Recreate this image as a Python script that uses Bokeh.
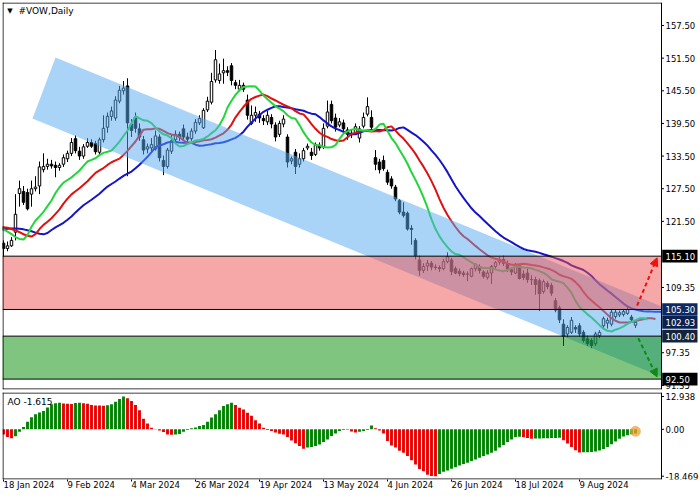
import math
from bokeh.plotting import figure
from bokeh.layouts import column
from bokeh.models import (ColumnDataSource, Range1d, LinearAxis, FixedTicker,
                          Label, Arrow, NormalHead)
from bokeh.core.properties import value
from bokeh.embed import file_html
from bokeh.resources import INLINE

FONT = "DejaVu Sans"

# ---------------- data ----------------
symbol = "#VOW,Daily"
date_tick_index = [0, 16, 32, 48, 64, 80, 96, 112, 128, 144]
date_tick_labels = ["18 Jan 2024", "9 Feb 2024", "4 Mar 2024", "26 Mar 2024", "19 Apr 2024",
                    "13 May 2024", "4 Jun 2024", "26 Jun 2024", "18 Jul 2024", "9 Aug 2024"]
price_ticks = [157.5, 151.5, 145.5, 139.5, 133.5, 127.5, 121.5, 109.35, 97.35, 91.35]
ao_ticks = [12.938, 0.0, -18.469]
ao_tick_labels = ["12.938", "0.00", "-18.469"]

opens = [
    117.5, 116.5, 117.0, 119.5, 126.6, 127.0, 126.8, 126.5, 127.5, 128.0,
    131.0, 131.6, 132.0, 131.8, 131.4, 132.0, 133.0, 134.0, 136.7, 134.4,
    133.5, 135.3, 136.0, 135.8, 134.2, 136.5, 138.8, 140.8, 140.5, 143.6,
    145.5, 146.4, 139.4, 140.7, 138.5, 136.5, 134.8, 135.0, 134.8, 137.0,
    132.7, 131.6, 134.4, 136.5, 137.5, 138.5, 137.0, 136.7, 138.1, 139.6,
    138.7, 142.0, 143.4, 147.5, 147.4, 148.8, 149.2, 150.1, 147.0, 145.8,
    146.5, 143.8, 139.5, 141.0, 141.2, 140.4, 139.8, 140.6, 139.2, 137.5,
    139.4, 137.0, 132.6, 134.2, 132.0, 133.0, 135.0, 134.2, 133.8, 135.5,
    135.2, 139.0, 143.0, 140.5, 139.2, 139.6, 138.3, 137.4, 137.8, 136.8,
    139.0, 141.2, 140.6, 133.2, 132.4, 132.7, 130.5, 129.3, 127.8, 125.3,
    123.2, 123.0, 120.2, 118.0, 114.4, 112.5, 113.3, 113.8, 113.1, 113.0,
    112.8, 114.1, 114.4, 112.8, 112.3, 112.0, 111.8, 111.4, 112.8, 113.2,
    112.2, 111.2, 112.0, 113.2, 114.0, 114.5, 113.7, 112.6, 112.0, 113.4,
    111.8, 112.0, 110.8, 110.8, 110.6, 108.6, 110.1, 109.7, 106.9, 105.6,
    102.6, 100.8, 101.1, 102.0, 102.3, 101.1, 99.9, 99.6, 99.0, 100.5,
    102.3, 102.8, 102.6, 104.0, 104.3, 104.4, 104.6, 103.9, 102.4]
highs = [
    118.0, 117.8, 118.6, 126.5, 129.0, 128.0, 127.5, 129.0, 129.8, 132.5,
    134.0, 133.0, 132.8, 132.5, 132.2, 133.8, 134.5, 136.8, 137.3, 135.2,
    135.7, 136.8, 136.6, 136.3, 136.9, 141.0, 141.5, 142.6, 144.5, 146.4,
    147.3, 147.8, 140.3, 141.5, 139.5, 137.2, 135.8, 136.8, 138.2, 137.5,
    133.6, 135.0, 137.5, 138.2, 138.0, 139.3, 137.8, 138.6, 140.3, 141.0,
    142.3, 144.4, 148.8, 153.0, 150.5, 151.4, 150.0, 150.6, 147.5, 147.5,
    147.0, 144.8, 142.8, 142.6, 141.8, 141.0, 141.8, 141.2, 139.7, 140.0,
    141.0, 137.5, 133.4, 134.8, 134.0, 135.0, 135.8, 135.0, 136.0, 136.0,
    139.5, 143.7, 143.7, 141.3, 140.5, 140.2, 138.8, 138.3, 139.5, 139.0,
    141.5, 144.3, 141.9, 134.6, 133.0, 133.6, 131.0, 129.8, 128.2, 125.6,
    125.0, 123.3, 120.8, 118.4, 115.2, 113.8, 114.4, 114.2, 113.6, 113.4,
    114.6, 115.8, 114.8, 113.2, 112.8, 112.4, 112.3, 113.0, 113.8, 113.6,
    112.5, 112.5, 113.5, 114.2, 115.0, 115.2, 114.3, 113.0, 113.8, 113.7,
    112.5, 112.8, 111.6, 111.3, 111.0, 110.8, 110.5, 110.2, 107.4, 106.0,
    103.5, 102.4, 103.9, 102.4, 102.8, 101.5, 100.5, 100.0, 101.2, 101.5,
    104.0, 103.8, 105.2, 105.3, 105.1, 105.2, 105.8, 104.3, 103.3]
lows = [
    115.0, 116.0, 116.8, 118.0, 124.2, 124.5, 123.5, 124.2, 127.0, 126.5,
    130.5, 131.0, 131.2, 129.6, 130.8, 131.5, 132.4, 133.5, 134.0, 132.8,
    133.0, 135.0, 135.0, 133.8, 133.8, 136.0, 137.8, 140.0, 140.0, 143.2,
    144.8, 129.8, 137.0, 137.8, 136.3, 133.8, 134.0, 134.3, 134.5, 132.5,
    130.0, 131.2, 133.9, 136.0, 136.3, 136.4, 135.8, 136.3, 137.6, 139.2,
    138.5, 141.6, 143.0, 147.0, 146.8, 146.8, 148.2, 146.5, 145.8, 145.4,
    145.3, 140.2, 139.2, 139.8, 139.6, 139.2, 139.2, 138.6, 136.2, 137.0,
    138.8, 131.4, 132.0, 130.2, 131.4, 132.5, 134.6, 132.8, 133.5, 134.5,
    134.8, 138.6, 139.5, 138.0, 138.8, 137.8, 136.5, 136.8, 137.5, 136.0,
    138.6, 140.8, 138.2, 130.9, 130.3, 130.8, 128.2, 127.5, 125.2, 122.8,
    122.2, 119.8, 117.2, 114.5, 111.5, 112.0, 112.4, 112.5, 112.6, 112.2,
    112.5, 113.8, 111.6, 111.8, 111.4, 111.3, 110.5, 111.2, 112.3, 111.9,
    111.0, 110.8, 110.0, 112.8, 113.5, 113.3, 112.2, 111.6, 111.8, 110.8,
    110.7, 110.2, 109.8, 108.0, 105.0, 108.2, 109.0, 107.8, 104.8, 102.8,
    98.6, 100.2, 100.8, 101.0, 100.3, 99.2, 98.6, 98.2, 98.6, 100.0,
    101.8, 101.8, 102.2, 103.6, 103.9, 104.0, 104.3, 103.0, 101.9]
closes = [
    116.5, 117.0, 118.0, 122.8, 127.5, 125.0, 123.8, 127.5, 127.8, 131.5,
    131.6, 132.0, 131.7, 131.4, 131.8, 133.2, 134.0, 136.0, 134.5, 133.5,
    135.2, 136.0, 135.3, 134.3, 136.5, 138.6, 140.8, 141.8, 143.8, 145.6,
    146.0, 139.6, 138.2, 138.6, 137.0, 134.6, 135.2, 135.6, 137.2, 133.2,
    131.6, 134.6, 136.3, 137.5, 137.0, 137.0, 136.6, 138.1, 139.7, 140.4,
    141.9, 143.6, 147.2, 151.2, 148.6, 149.2, 148.9, 147.4, 146.5, 146.5,
    145.8, 141.0, 141.0, 141.5, 140.5, 140.0, 141.0, 139.4, 137.0, 139.5,
    140.3, 132.4, 133.0, 131.6, 133.0, 134.5, 135.3, 133.6, 135.6, 135.0,
    138.6, 141.6, 140.0, 138.8, 139.8, 138.5, 137.5, 137.7, 138.9, 138.5,
    140.6, 142.6, 138.8, 132.0, 131.0, 131.2, 128.7, 128.0, 125.6, 123.2,
    122.6, 120.1, 120.0, 115.2, 112.5, 113.2, 113.8, 113.1, 113.0, 112.8,
    114.1, 115.0, 112.3, 112.0, 111.9, 111.7, 111.8, 112.8, 113.6, 112.5,
    111.4, 112.0, 113.2, 113.9, 114.5, 113.8, 112.8, 112.2, 113.6, 111.0,
    111.2, 110.8, 110.8, 109.9, 108.2, 110.4, 109.5, 108.3, 105.2, 103.4,
    100.4, 102.0, 103.3, 101.7, 100.8, 99.6, 99.0, 98.7, 100.8, 101.1,
    103.6, 103.3, 104.8, 104.8, 104.7, 104.9, 105.3, 103.4, 102.93]

# median prices of the bars before the first visible bar (indicator warm-up)
pre_median = [119.4, 119.0, 119.6, 120.0, 119.3, 119.1, 119.8, 120.2, 119.6, 119.2,
              119.7, 120.3, 120.6, 120.2, 120.9, 121.2, 120.7, 121.0, 121.3, 120.6,
              120.4, 119.5, 118.6, 117.9, 117.3]

ao_values = [
    -2.0, -3.0, -3.5, -2.7, -1.0, 0.95, 3.0, 4.8, 5.9, 6.6,
    7.2, 8.6, 9.9, 10.3, 10.5, 10.2, 10.1, 10.0, 10.35, 10.45,
    10.3, 10.05, 9.6, 9.4, 9.35, 9.3, 9.5, 9.9, 10.9, 11.9,
    12.938, 12.2, 11.2, 9.6, 7.5, 4.2, 2.3, 0.65, -0.1, -0.5,
    -1.05, -2.0, -2.1, -2.0, -1.8, -0.95, -0.3, 0.4, 0.75, 1.3,
    1.7, 3.0, 4.65, 5.9, 7.5, 9.2, 9.9, 10.45, 9.6, 8.55,
    7.8, 6.55, 5.3, 3.6, 2.3, 0.65, -0.3, -0.65, -1.3, -1.7,
    -2.0, -3.0, -4.4, -5.5, -6.55, -7.7, -7.2, -7.0, -6.55, -6.0,
    -5.0, -4.0, -2.65, -1.6, -0.65, -0.3, -0.2, -0.9, -1.3, -1.0,
    -0.7, -0.3, 1.5, 0.4, -0.5, -1.6, -4.6, -6.4, -7.2, -8.4,
    -9.2, -10.5, -12.2, -13.9, -15.6, -16.5, -17.9, -18.4, -18.469, -17.6,
    -16.7, -16.2, -15.5, -14.9, -14.25, -13.7, -13.2, -12.5, -11.9, -11.2,
    -10.5, -9.9, -9.2, -8.4, -7.2, -6.2, -5.0, -4.0, -3.0, -2.9,
    -3.1, -3.4, -3.7, -3.65, -3.6, -3.55, -3.5, -3.45, -3.4, -3.35,
    -4.3, -5.6, -7.0, -8.2, -9.1, -9.05, -9.0, -8.95, -8.7, -8.3,
    -7.8, -7.0, -5.9, -4.8, -3.7, -2.8, -2.3, -1.9, -1.615]

red_zone = [105.30, 115.10]
green_zone = [92.50, 100.40]
channel_index = [13.0, 170.0, 170.0, 7.25]      # top-left, top-right, bottom-right, bottom-left
channel_price = [151.6, 104.2, 91.25, 140.4]
arrow_up_index = [158.4, 163.4]
arrow_up_price = [106.0, 114.8]
arrow_dn_index = [158.7, 163.4]
arrow_dn_price = [100.0, 92.9]
price_boxes = [115.10, 105.30, 102.93, 100.40, 92.50]
price_box_colors = ["#000000", "#0d2a66", "#0b2250", "#14243c", "#000000"]

n = len(closes)
assert len(opens) == n and len(highs) == n and len(lows) == n and len(ao_values) == n

# ---------------- layout constants ----------------
W = 699
LEFT = 2
PLOT_W = 659                 # chart area up to the price scale line
MAIN_H = 390
AO_H = 109
X0, X1 = -0.25, 164.5        # visible bars
Y0, Y1 = 90.59, 161.73
AO0, AO1 = -19.77, 14.51

ppb = PLOT_W / (X1 - X0)
XE = X0 + (W - LEFT) / ppb   # frames also cover the price-scale strip
xr = Range1d(X0, XE)
hx = 0.5 / ppb

# ---------------- main panel ----------------
p = figure(width=W, height=MAIN_H, x_range=xr, y_range=Range1d(Y0, Y1),
           x_axis_location=None, y_axis_location=None,
           output_backend="svg", toolbar_location=None,
           min_border_left=LEFT, min_border_right=0, min_border_top=2, min_border_bottom=1)
p.grid.visible = False
p.outline_line_color = None
p.background_fill_color = "white"
p.border_fill_color = "white"
ppu = (MAIN_H - 3) / (Y1 - Y0)
hy = 0.5 / ppu

idx = list(range(n))
src = ColumnDataSource(dict(
    x=idx, h=highs, l=lows,
    top=[max(o, c) for o, c in zip(opens, closes)],
    bottom=[min(o, c) for o, c in zip(opens, closes)],
    fill=["white" if c >= o else "black" for o, c in zip(opens, closes)],
))
p.segment(x0="x", y0="l", x1="x", y1="h", source=src, line_color="black", line_width=1)
p.vbar(x="x", width=0.62, top="top", bottom="bottom", fill_color="fill",
       line_color="black", line_width=1, source=src)

# Alligator (smoothed moving averages of median price, shifted forward)
def smma(vals, period):
    out = [float("nan")] * len(vals)
    s = sum(vals[:period]) / period
    out[period - 1] = s
    for k in range(period, len(vals)):
        s = (s * (period - 1) + vals[k]) / period
        out[k] = s
    return out

def clip_right(xs, ys, xmax):
    cx, cy = [], []
    for k in range(len(xs)):
        if xs[k] <= xmax:
            cx.append(xs[k]); cy.append(ys[k])
        else:
            if k > 0 and xs[k - 1] < xmax:
                t = (xmax - xs[k - 1]) / (xs[k] - xs[k - 1])
                cx.append(xmax); cy.append(ys[k - 1] + t * (ys[k] - ys[k - 1]))
            break
    return cx, cy

npre = len(pre_median)
median = pre_median + [(h + l) / 2 for h, l in zip(highs, lows)]
for period, shift, color in [(13, 8, "#1414c8"), (8, 5, "#e01010"), (5, 3, "#22d63a")]:
    vals = smma(median, period)
    xs = [k - npre + shift for k in range(len(vals)) if not math.isnan(vals[k])]
    ys = [v for v in vals if not math.isnan(v)]
    xs, ys = clip_right(xs, ys, X1)
    p.line(xs, ys, line_color=color, line_width=2)

# channel (clipped at the price scale)
def y_at(xa, ya, xb, yb, x):
    return ya + (yb - ya) * (x - xa) / (xb - xa)

ch_top_r = y_at(channel_index[0], channel_price[0], channel_index[1], channel_price[1], X1)
ch_bot_r = y_at(channel_index[3], channel_price[3], channel_index[2], channel_price[2], X1)
p.patch([channel_index[0], X1, X1, channel_index[3]],
        [channel_price[0], ch_top_r, ch_bot_r, channel_price[3]],
        fill_color="#55a9f0", fill_alpha=0.5, line_color=None)
p.quad(left=[X0 - 1], right=[X1], bottom=[red_zone[0]], top=[red_zone[1]],
       fill_color="#ee5050", fill_alpha=0.5, line_color=None)
p.quad(left=[X0 - 1], right=[X1], bottom=[green_zone[0]], top=[green_zone[1]],
       fill_color="#008a00", fill_alpha=0.5, line_color=None)
lv = red_zone + green_zone
p.segment(x0=[X0] * len(lv), y0=lv, x1=[X1] * len(lv), y1=lv, line_color="black", line_width=1)

p.add_layout(Arrow(end=NormalHead(size=8, fill_color="#ee1111", line_color="#ee1111"),
                   x_start=arrow_up_index[0], y_start=arrow_up_price[0],
                   x_end=arrow_up_index[1], y_end=arrow_up_price[1],
                   line_color="#ee1111", line_width=2, line_dash="4 3"))
p.add_layout(Arrow(end=NormalHead(size=8, fill_color="#128a12", line_color="#128a12"),
                   x_start=arrow_dn_index[0], y_start=arrow_dn_price[0],
                   x_end=arrow_dn_index[1], y_end=arrow_dn_price[1],
                   line_color="#128a12", line_width=2, line_dash="4 3"))

# frame border of the price area
p.segment(x0=[X0 + hx, X0, X0, X1], y0=[Y0, Y1 - hy, Y0 + hy, Y0],
          x1=[X0 + hx, X1, X1, X1], y1=[Y1, Y1 - hy, Y0 + hy, Y1],
          line_color="black", line_width=1)

# price scale: tick marks, tick labels and price boxes
nt = len(price_ticks)
p.segment(x0=[X1] * nt, y0=price_ticks, x1=[X1 + 2.5 / ppb] * nt, y1=price_ticks,
          line_color="black", line_width=1)
p.text(x=[X1] * nt, y=price_ticks, text=[f"{t:.2f}" for t in price_ticks], x_offset=4,
       text_font=value(FONT), text_font_size=value("8.5px"), text_color="black",
       text_align="left", text_baseline="middle")
nb = len(price_boxes)
p.quad(left=[X1 + 0.7 / ppb] * nb, right=[X1 + 36 / ppb] * nb,
       bottom=[b - 6.3 / ppu for b in price_boxes], top=[b + 6.3 / ppu for b in price_boxes],
       fill_color=price_box_colors, line_color=None)
p.text(x=[X1] * nb, y=price_boxes, text=[f"{b:.2f}" for b in price_boxes], x_offset=4,
       text_font=value(FONT), text_font_size=value("8.5px"), text_color="white",
       text_align="left", text_baseline="middle")

p.add_layout(Label(x=X0 + 7.5 / ppb, y=Y1 - 8 / ppu, text="\u25bc", text_font=FONT,
                   text_font_size="7px", text_color="black", text_align="center",
                   text_baseline="middle"))
p.add_layout(Label(x=X0 + 16 / ppb, y=Y1 - 8 / ppu, text=symbol, text_font=FONT,
                   text_font_size="9px", text_color="black", text_align="left",
                   text_baseline="middle"))

# ---------------- AO panel ----------------
ao = figure(width=W, height=AO_H, x_range=xr, y_range=Range1d(AO0, AO1),
            x_axis_location=None, y_axis_location=None,
            output_backend="svg", toolbar_location=None,
            min_border_left=LEFT, min_border_right=0, min_border_top=2, min_border_bottom=20)
ao.grid.visible = False
ao.outline_line_color = None
ao.background_fill_color = "white"
ao.border_fill_color = "white"
ao_ppu = (AO_H - 22) / (AO1 - AO0)
ahy = 0.5 / ao_ppu

ao_colors = ["#e60000"]
for k in range(1, n):
    ao_colors.append("#008200" if ao_values[k] > ao_values[k - 1] else "#e60000")
ao.vbar(x=idx, top=ao_values, bottom=0, width=0.72, fill_color=ao_colors, line_color=None)
ao.scatter(x=[idx[-1]], y=[ao_values[-1] / 2], size=10, fill_color="#f0a030",
           fill_alpha=0.75, line_color="#f0b060", line_alpha=0.6)

ao.segment(x0=[X0 + hx, X0, X0, X1], y0=[AO0, AO1 - ahy, AO0 + ahy, AO0],
           x1=[X0 + hx, X1, X1, X1], y1=[AO1, AO1 - ahy, AO0 + ahy, AO1],
           line_color="black", line_width=1)
na = len(ao_ticks)
ao.segment(x0=[X1] * na, y0=ao_ticks, x1=[X1 + 2.5 / ppb] * na, y1=ao_ticks,
           line_color="black", line_width=1)
ao.text(x=[X1] * na, y=ao_ticks, text=ao_tick_labels, x_offset=4,
        text_font=value(FONT), text_font_size=value("8.5px"), text_color="black",
        text_align="left", text_baseline="middle")

ax_b = LinearAxis(ticker=FixedTicker(ticks=date_tick_index),
                  major_label_overrides=dict(zip(date_tick_index, date_tick_labels)),
                  major_tick_out=2, major_tick_in=0, minor_tick_out=0, minor_tick_in=0,
                  major_label_standoff=3, axis_line_color=None,
                  major_label_orientation=-0.0001,
                  major_label_text_font=FONT, major_label_text_font_size="8.5px",
                  major_label_text_color="black")
ao.add_layout(ax_b, "below")

ao.add_layout(Label(x=X0 + 5 / ppb, y=AO1 - 4 / ao_ppu,
                    text=f"AO {ao_values[-1]:.3f}", text_font=FONT, text_font_size="9px",
                    text_color="black", text_align="left", text_baseline="top"))

layout = column(p, ao, spacing=0)
open("out.html", "w").write(file_html(layout, INLINE))
